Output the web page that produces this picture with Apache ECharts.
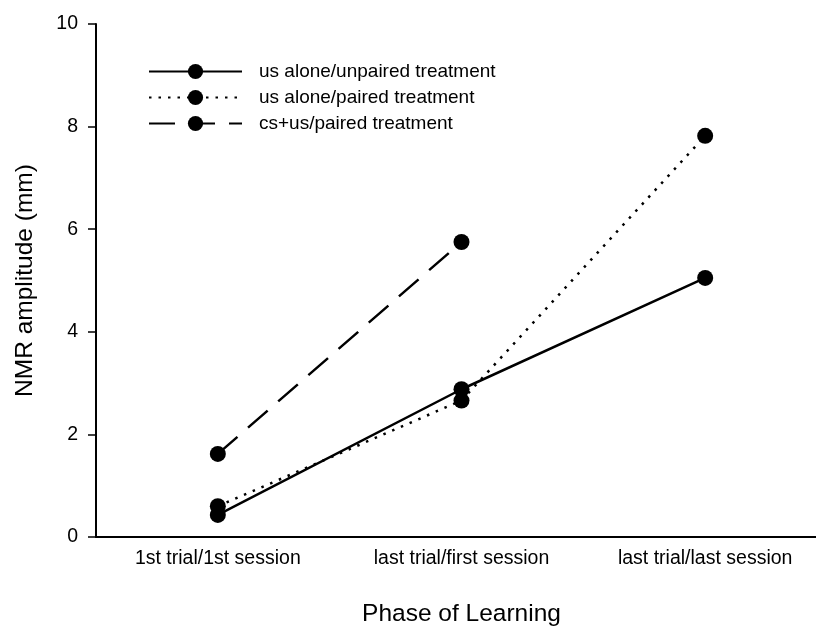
<!DOCTYPE html>
<html><head><meta charset="utf-8">
<script src="https://cdn.jsdelivr.net/npm/echarts@6/dist/echarts.min.js"></script>
<style>html,body{margin:0;padding:0;background:#fff}#c{width:816px;height:628px}</style>
</head><body><div id="c"></div>
<script>
var categories = ['1st trial/1st session', 'last trial/first session', 'last trial/last session'];
var unpaired = [0.43, 2.88, 5.05];
var paired = [0.6, 2.66, 7.82];
var csus = [1.62, 5.75, null];
var seriesNames = ['us alone/unpaired treatment', 'us alone/paired treatment', 'cs+us/paired treatment'];
var yTicks = [0, 2, 4, 6, 8, 10];

var font = 'Liberation Sans, Arial, sans-serif';
function mk(name, data, type) {
  return {
    name: name, type: 'line', data: data, symbol: 'circle', symbolSize: 16,
    itemStyle: { color: '#000' },
    lineStyle: { color: '#000', width: 2.5, type: type },
    animation: false
  };
}
var chart = echarts.init(document.getElementById('c'));
chart.setOption({
  animation: false,
  grid: { left: 96, right: -11, top: 24, bottom: 91, containLabel: false, outerBoundsMode: 'none' },
  legend: {
    orient: 'vertical', left: 143, top: 57, itemWidth: 93, itemHeight: 19, itemGap: 7,
    textStyle: { fontFamily: font, fontSize: 19, lineHeight: 16, color: '#000', padding: [0, 0, 0, 12] },
    data: seriesNames
  },
  xAxis: {
    type: 'category', data: categories, boundaryGap: true,
    axisLine: { lineStyle: { color: '#000', width: 2 } },
    axisTick: { alignWithLabel: true, length: 8, lineStyle: { color: '#000', width: 1.5 } },
    axisLabel: { fontFamily: font, fontSize: 19.5, color: '#000', margin: 12 },
    name: 'Phase of Learning', nameLocation: 'middle', nameGap: 65,
    nameTextStyle: { fontFamily: font, fontSize: 24.5, color: '#000' }
  },
  yAxis: {
    type: 'value', min: 0, max: 10, interval: 2,
    axisLine: { show: true, lineStyle: { color: '#000', width: 2 } },
    axisTick: { show: true, length: 8, lineStyle: { color: '#000', width: 1.5 } },
    axisLabel: { fontFamily: font, fontSize: 19.5, color: '#000', margin: 18,
      formatter: function (v) { return yTicks.indexOf(v) >= 0 ? String(v) : ''; } },
    splitLine: { show: false },
    name: 'NMR amplitude (mm)', nameLocation: 'middle', nameGap: 58,
    nameTextStyle: { fontFamily: font, fontSize: 24.5, color: '#000' }
  },
  series: [
    mk(seriesNames[0], unpaired, 'solid'),
    mk(seriesNames[1], paired, [2.5, 7]),
    mk(seriesNames[2], csus, [26, 14])
  ]
});
</script></body></html>
